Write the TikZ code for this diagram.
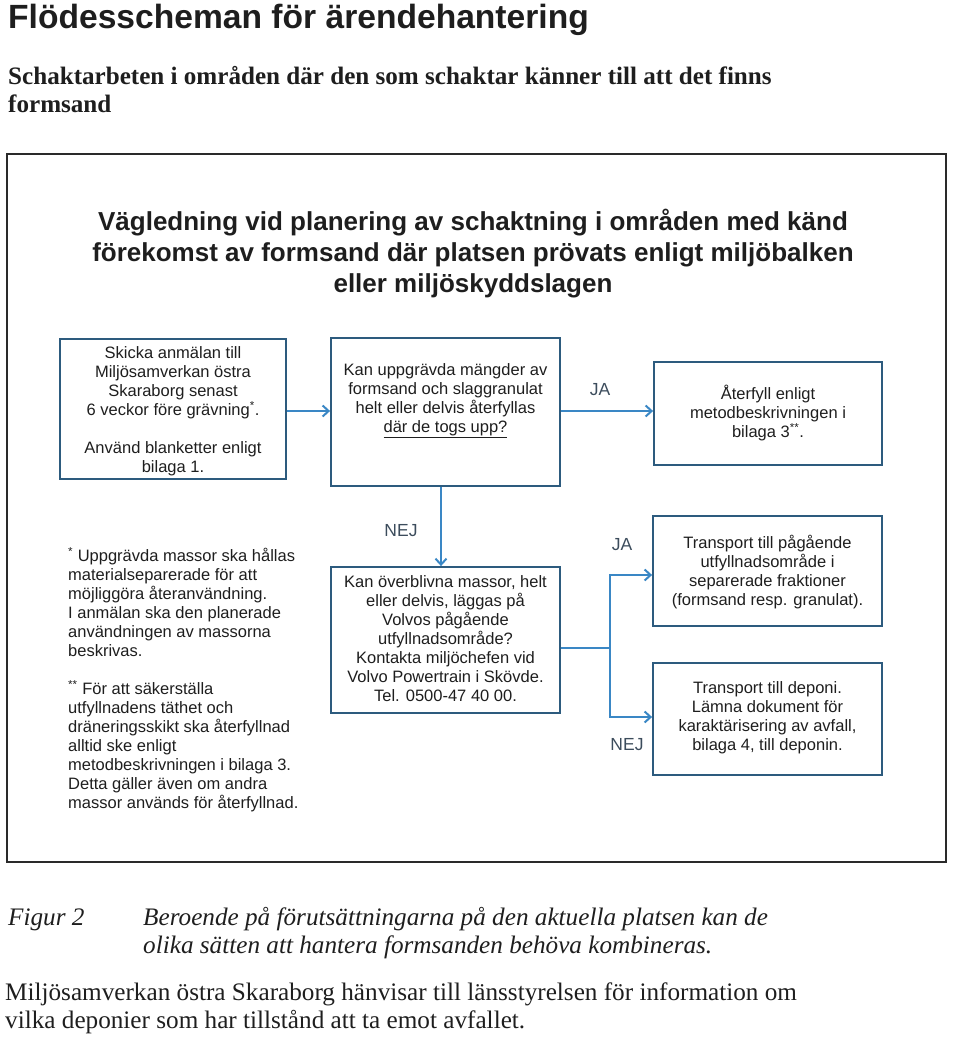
\documentclass[tikz,border=0pt]{standalone}
\usepackage{fontspec}
\setmainfont{Liberation Serif}
\setsansfont{Liberation Sans}
\usetikzlibrary{arrows.meta}
\definecolor{boxblue}{HTML}{2D5B7E}
\definecolor{arrblue}{HTML}{3A87C5}
\definecolor{txt}{HTML}{1E1E1E}
\definecolor{frame}{HTML}{2A2A2A}
\definecolor{lblc}{HTML}{3C4C5C}
\tikzset{
  box/.style={draw=boxblue, line width=1.8pt, inner sep=0pt},
  btxt/.style={font=\sffamily\fontsize{16.5}{19}\selectfont, text=txt, align=center, inner sep=0pt},
  lbl/.style={font=\sffamily\fontsize{17.5}{19}\selectfont, text=lblc, inner sep=0pt},
  conn/.style={draw=arrblue, line width=2pt},
  arr/.style={conn, -{Straight Barb[length=6pt,width=11pt]}},
  serifline/.style={anchor=base west, inner sep=0pt, text=txt}
}
\begin{document}
\begin{tikzpicture}[x=1pt,y=-1pt]
\useasboundingbox (0,0) rectangle (960,1037);
% page texts
\node[serifline, font=\sffamily\bfseries\fontsize{33.6}{36}\selectfont] (title) at (8,28) {Flödesscheman för ärendehantering};
\node[serifline, font=\bfseries\fontsize{25.1}{29}\selectfont] (sub1) at (8,84) {Schaktarbeten i områden där den som schaktar känner till att det finns};
\node[serifline, font=\bfseries\fontsize{25.1}{29}\selectfont] (sub2) at (8,112) {formsand};
% frame
\node[draw=frame, line width=1.8pt, minimum width=939pt, minimum height=708pt, inner sep=0pt] (frm) at (476.5,508) {};
\node[font=\sffamily\bfseries\fontsize{26}{31}\selectfont, text=txt, align=center, inner sep=0pt] (head) at (473,253.5)
  {Vägledning vid planering av schaktning i områden med känd\\förekomst av formsand där platsen prövats enligt miljöbalken\\eller miljöskyddslagen};
% boxes
\node[box, minimum width=226pt, minimum height=140pt] (b1) at (173,409) {};
\node[box, minimum width=229pt, minimum height=148pt] (b2) at (445.5,412) {};
\node[box, minimum width=228pt, minimum height=103pt] (b3) at (768,413.5) {};
\node[box, minimum width=229pt, minimum height=146pt] (b4) at (445.5,640) {};
\node[box, minimum width=229pt, minimum height=110pt] (b5) at (767.5,571) {};
\node[box, minimum width=229pt, minimum height=112pt] (b6) at (767.5,719) {};
% box texts
\node[btxt] (t1) at (173,411) {Skicka anmälan till\\Miljösamverkan östra\\Skaraborg senast\\6 veckor före grävning\textsuperscript{*}.\\[19pt]Använd blanketter enligt\\bilaga 1.};
\node[btxt] (t2) at (445.5,401) {Kan uppgrävda mängder av\\formsand och slaggranulat\\helt eller delvis återfyllas\\\underline{där de togs upp?}};
\node[btxt] (t3) at (768,413) {Återfyll enligt\\metodbeskrivningen i\\bilaga 3\textsuperscript{**}.};
\node[btxt] (t4) at (445.5,639) {Kan överblivna massor, helt\\eller delvis, läggas på\\Volvos pågående\\utfyllnadsområde?\\Kontakta miljöchefen vid\\Volvo Powertrain i Skövde.\\Tel. 0500-47 40 00.};
\node[btxt] (t5) at (767.5,572) {Transport till pågående\\utfyllnadsområde i\\separerade fraktioner\\(formsand resp. granulat).};
\node[btxt] (t6) at (767.5,718) {Transport till deponi.\\Lämna dokument för\\karaktärisering av avfall,\\bilaga 4, till deponin.};
% footnotes
\node[btxt, align=left, anchor=west] (fn) at (68,679.5) {\textsuperscript{*} Uppgrävda massor ska hållas\\materialseparerade för att\\möjliggöra återanvändning.\\I anmälan ska den planerade\\användningen av massorna\\beskrivas.\\[19pt]\textsuperscript{**} För att säkerställa\\utfyllnadens täthet och\\dräneringsskikt ska återfyllnad\\alltid ske enligt\\metodbeskrivningen i bilaga 3.\\Detta gäller även om andra\\massor används för återfyllnad.};
% connectors
\coordinate (y1) at (0,411);
\coordinate (x1) at (441,0);
\coordinate (j) at (610,648);
\coordinate (ju) at (610,575);
\coordinate (jd) at (610,717);
\draw[arr] (b1.east |- y1) -- (b2.west |- y1);
\draw[arr] (b2.east |- y1) -- (b3.west |- y1);
\draw[arr] (b2.south -| x1) -- (b4.north -| x1);
\draw[conn] (b4.east |- j) -- (j);
\draw[arr] (j) -- (ju) -- (b5.west |- ju);
\draw[arr] (j) -- (jd) -- (b6.west |- jd);
% labels
\node[lbl] (ja1) at (600,390) {JA};
\node[lbl] (nej1) at (401,531) {NEJ};
\node[lbl] (ja2) at (622,545) {JA};
\node[lbl] (nej2) at (627,745) {NEJ};
% caption
\node[serifline, font=\itshape\fontsize{25.2}{29}\selectfont] (fig) at (8,925) {Figur 2};
\node[serifline, font=\itshape\fontsize{25.2}{29}\selectfont] (cap1) at (143,925) {Beroende på förutsättningarna på den aktuella platsen kan de};
\node[serifline, font=\itshape\fontsize{25.2}{29}\selectfont] (cap2) at (143,953) {olika sätten att hantera formsanden behöva kombineras.};
\node[serifline, font=\fontsize{25.2}{29}\selectfont] (bt1) at (5,1000) {Miljösamverkan östra Skaraborg hänvisar till länsstyrelsen för information om};
\node[serifline, font=\fontsize{25.2}{29}\selectfont] (bt2) at (5,1028) {vilka deponier som har tillstånd att ta emot avfallet.};
\end{tikzpicture}
\end{document}
